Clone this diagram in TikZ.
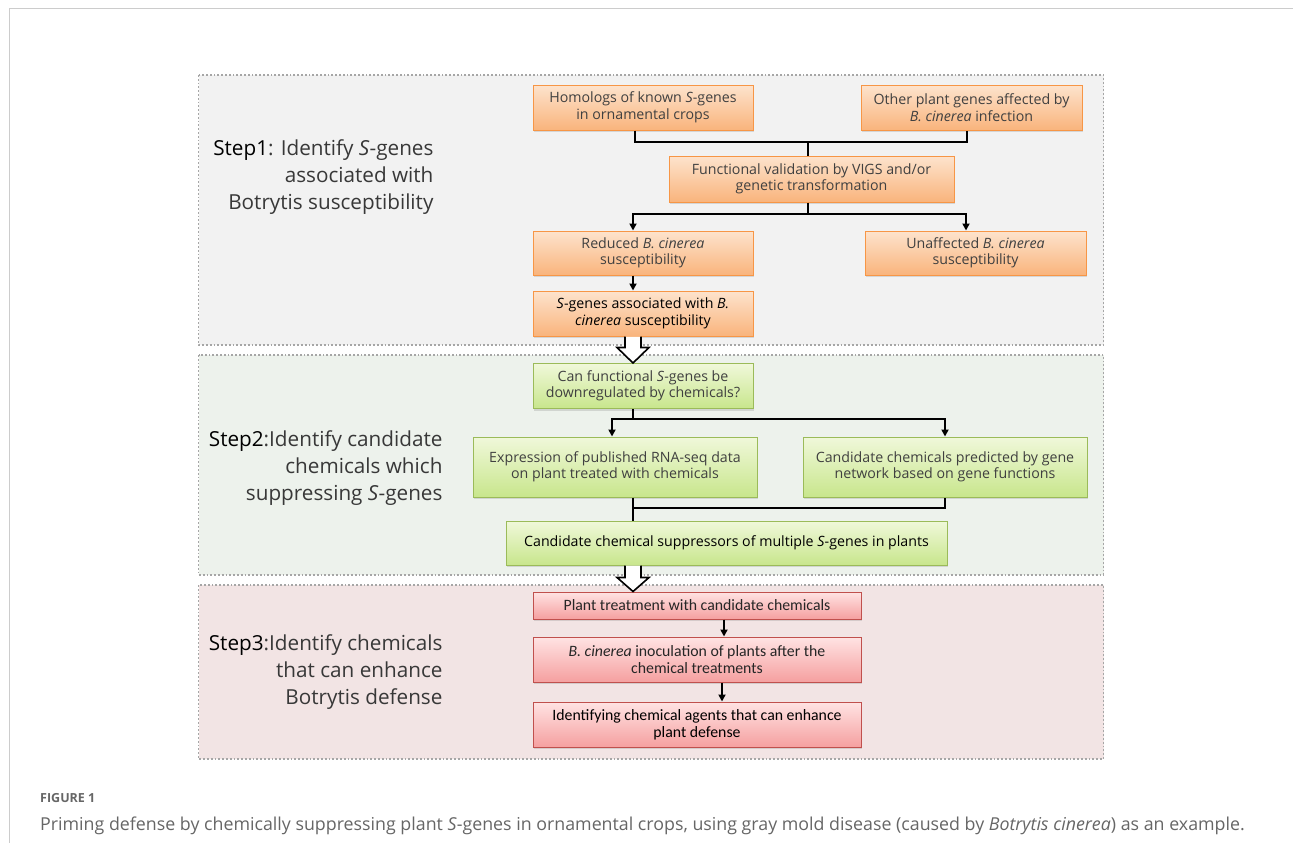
\documentclass[tikz,border=0pt]{standalone}
\usepackage{fontspec}
\setmainfont{Open Sans}
\newfontfamily\calfont{Carlito}
\usetikzlibrary{arrows.meta,shadows,calc}
\definecolor{framegray}{HTML}{CCCCCC}
\definecolor{dotgray}{HTML}{A6A6A6}
\definecolor{pone}{HTML}{F2F2F2}
\definecolor{ptwo}{HTML}{EDF2EC}
\definecolor{pthree}{HTML}{F2E4E4}
\definecolor{orbord}{HTML}{F79646}
\definecolor{ortop}{HTML}{FDE3CD}
\definecolor{orbot}{HTML}{F9B47C}
\definecolor{grbord}{HTML}{9BBB59}
\definecolor{grtop}{HTML}{F0F8DA}
\definecolor{grbot}{HTML}{C8E68C}
\definecolor{rdbord}{HTML}{C0504D}
\definecolor{rdtop}{HTML}{FFE3E3}
\definecolor{rdbot}{HTML}{F5A0A0}
\definecolor{txtgray}{HTML}{404040}
\definecolor{capgray}{HTML}{666666}
\begin{document}
\begin{tikzpicture}[x=1pt,y=-1pt,
  panel/.style={draw=dotgray, line width=1.8pt, dash pattern=on 1.8pt off 2pt},
  box/.style={rectangle, draw, line width=1pt, align=center, inner sep=0pt,
    font=\fontsize{14.2}{16.5}\selectfont, text=txtgray,
    drop shadow={shadow xshift=1pt, shadow yshift=-2pt, opacity=0.25}},
  obox/.style={box, draw=orbord, top color=ortop, bottom color=orbot},
  gbox/.style={box, draw=grbord, top color=grtop, bottom color=grbot},
  rbox/.style={box, draw=rdbord, top color=rdtop, bottom color=rdbot, font=\calfont\fontsize{15.8}{17}\selectfont, text=black!85},
  conn/.style={line width=2pt, black},
  arr/.style={conn, -{Triangle[length=7pt,width=7pt]}},
  hol/.style={draw=black, fill=white, line width=1.6pt, line join=miter},
  steplab/.style={anchor=east, align=right, font=\fontsize{20.7}{27}\selectfont, text=black!78}
]
\useasboundingbox (0,0) rectangle (1293,843);
\fill[white] (0,0) rectangle (1293,843);
\draw[framegray, line width=1pt] (9,843) -- (9,9) -- (1293,9);

% panels
\draw[panel, fill=pone] (198.5,75) rectangle (1103.5,345);
\draw[panel, fill=ptwo] (198.5,355) rectangle (1103.5,575);
\draw[panel, fill=pthree] (198.5,585) rectangle (1103.5,759);

% step labels
\node[steplab] (s1) at (437,177.5) {{\color{black}Step1}: Identify \textit{S}-genes\\associated with\\Botrytis susceptibility};
\node[steplab] (s2) at (446,468.5) {{\color{black}Step2}:Identify candidate\\chemicals which\\suppressing \textit{S}-genes};
\node[steplab] (s3) at (446,672) {{\color{black}Step3}:Identify chemicals\\that can enhance\\Botrytis defense};

% step 1 boxes
\node[obox, minimum width=220pt, minimum height=45pt] (h1) at (643,107.5) {Homologs of known \textit{S}-genes\\in ornamental crops};
\node[obox, minimum width=221pt, minimum height=45pt] (h2) at (971.5,107.5) {Other plant genes affected by\\\textit{B. cinerea} infection};
\node[obox, minimum width=285pt, minimum height=46pt] (fv) at (811.5,179) {Functional validation by VIGS and/or\\genetic transformation};
\node[obox, minimum width=220pt, minimum height=44pt] (rd) at (643,253) {Reduced \textit{B. cinerea}\\susceptibility};
\node[obox, minimum width=221pt, minimum height=44pt] (un) at (975.5,253) {Unaffected \textit{B. cinerea}\\susceptibility};
\node[obox, minimum width=220pt, minimum height=45pt, text=black] (sg) at (643,313.5) {\textit{S}-genes associated with \textit{B.}\\\textit{cinerea} susceptibility};

% step 2 boxes
\node[gbox, minimum width=220pt, minimum height=45pt] (cf) at (643,386) {Can functional \textit{S}-genes be\\downregulated by chemicals?};
\node[gbox, minimum width=284pt, minimum height=60pt] (ex) at (615,467) {Expression of published RNA-seq data\\on plant treated with chemicals};
\node[gbox, minimum width=284pt, minimum height=60pt] (cp) at (945,467) {Candidate chemicals predicted by gene\\network based on gene functions};
\node[gbox, minimum width=441pt, minimum height=44pt, text=black] (cs) at (726.5,543) {Candidate chemical suppressors of multiple \textit{S}-genes in plants};

% step 3 boxes
\node[rbox, minimum width=328pt, minimum height=27pt] (pr) at (697,605.5) {Plant treatment with candidate chemicals};
\node[rbox, minimum width=328pt, minimum height=45pt] (bi) at (697,659.5) {\textit{B. cinerea} inoculation of plants after the\\chemical treatments};
\node[rbox, minimum width=328pt, minimum height=45pt, text=black] (id) at (697,724.5) {Identifying chemical agents that can enhance\\plant defense};

% step 1 connectors
\coordinate (j1) at (808,142);
\draw[conn] ([xshift=-8pt]h1.south) |- (j1) -| ([xshift=-4.5pt]h2.south);
\draw[conn] (j1) -- (j1 |- fv.north);
\coordinate (j2) at (808,214);
\draw[conn] (fv.south -| j2) -- (j2);
\draw[arr] (j2) -| ([xshift=-10pt]rd.north);
\draw[arr] (j2) -| ([xshift=-9.5pt]un.north);
\draw[arr] ([xshift=-10pt]rd.south) -- ([xshift=-10pt]sg.north);

% hollow arrow 1
\coordinate (a1) at ([xshift=-10pt]sg.south);
\coordinate (b1) at ([xshift=-10pt]cf.north);
\draw[hol] ($(a1)+(-8,0)$) -- ($(a1)+(-8,11)$) -- ($(a1)+(-16,11)$) -- (b1) -- ($(a1)+(16,11)$) -- ($(a1)+(8,11)$) -- ($(a1)+(8,0)$);

% step 2 connectors
\coordinate (j3) at (633,419);
\draw[conn] ([xshift=-10pt]cf.south) -- (j3);
\draw[arr] (j3) -| ([xshift=-3pt]ex.north);
\draw[arr] (j3) -| (cp.north);
\coordinate (j4) at (633,508);
\draw[conn] (ex.south -| j4) -- (cs.north -| j4);
\draw[conn] (j4) -| (cp.south);

% hollow arrow 2
\coordinate (a2) at (cs.south -| j4);
\coordinate (b2) at (pr.north -| j4);
\draw[hol] ($(a2)+(-8,0)$) -- ($(a2)+(-8,12)$) -- ($(a2)+(-16,12)$) -- (b2) -- ($(a2)+(16,12)$) -- ($(a2)+(8,12)$) -- ($(a2)+(8,0)$);

% step 3 connectors
\draw[arr] ([xshift=27pt]pr.south) -- ([xshift=27pt]bi.north);
\draw[arr] ([xshift=25pt]bi.south) -- ([xshift=25pt]id.north);

% caption
\node[anchor=west, inner sep=0pt, text=capgray, font=\bfseries\fontsize{12.5}{14}\selectfont] (fig) at (40,798) {FIGURE 1};
\node[anchor=west, inner sep=0pt, text=capgray, font=\fontsize{17.8}{20}\selectfont] (cap) at (40,826) {Priming defense by chemically suppressing plant \textit{S}-genes in ornamental crops, using gray mold disease (caused by \textit{Botrytis cinerea}) as an example.};
\end{tikzpicture}
\end{document}
